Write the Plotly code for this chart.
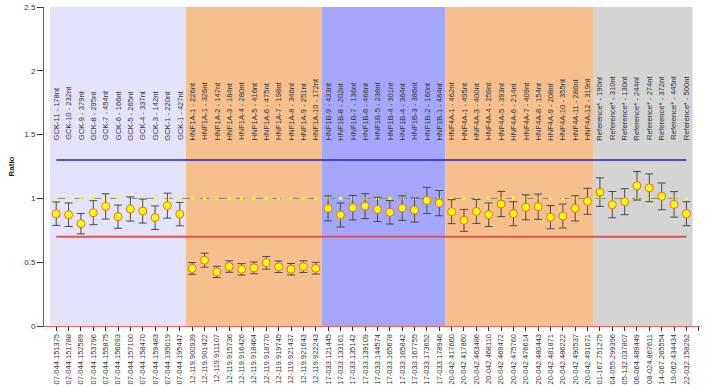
import plotly.graph_objects as go

# ---- data ----
gck_ids = ["07-044.151375", "07-044.151788", "07-044.152589", "07-044.153796", "07-044.155875",
           "07-044.156093", "07-044.157100", "07-044.158470", "07-044.159483", "07-044.195019", "07-044.195447"]
gck_names = ["GCK-11 - 178nt", "GCK-10 - 232nt", "GCK-9 - 379nt", "GCK-8 - 295nt", "GCK-7 - 454nt",
             "GCK-6 - 166nt", "GCK-5 - 265nt", "GCK-4 - 337nt", "GCK-3 - 142nt", "GCK-1 - 220nt", "GCK-1 - 427nt"]
gck_ratio = [0.88, 0.872, 0.802, 0.888, 0.937, 0.857, 0.917, 0.901, 0.849, 0.943, 0.877]
gck_err = [0.092, 0.092, 0.08, 0.094, 0.099, 0.091, 0.095, 0.094, 0.092, 0.098, 0.092]

hnf1a_ids = ["12-119.900939", "12-119.901422", "12-119.911107", "12-119.915736", "12-119.916426",
             "12-119.918464", "12-119.918770", "12-119.919745", "12-119.921437", "12-119.921643", "12-119.922243"]
hnf1a_names = ["HNF1A-1 - 226nt", "HNF1A-1 - 326nt", "HNF1A-2 - 147nt", "HNF1A-3 - 184nt", "HNF1A-4 - 280nt",
               "HNF1A-5 - 416nt", "HNF1A-6 - 475nt", "HNF1A-7 - 198nt", "HNF1A-8 - 346nt", "HNF1A-9 - 251nt",
               "HNF1A-10 - 172nt"]
hnf1a_ratio = [0.451, 0.516, 0.424, 0.466, 0.444, 0.456, 0.495, 0.464, 0.445, 0.465, 0.453]
hnf1a_err = [0.046, 0.055, 0.044, 0.045, 0.045, 0.046, 0.05, 0.045, 0.045, 0.046, 0.046]

hnf1b_ids = ["17-033.121445", "17-033.133161", "17-033.135142", "17-033.139109", "17-033.144574",
             "17-033.165678", "17-033.165842", "17-033.167755", "17-033.173652", "17-033.178946"]
hnf1b_names = ["HNF1B-9 - 433nt", "HNF1B-8 - 202nt", "HNF1B-7 - 136nt", "HNF1B-6 - 468nt", "HNF1B-5 - 238nt",
               "HNF1B-4 - 301nt", "HNF1B-4 - 364nt", "HNF1B-3 - 386nt", "HNF1B-2 - 160nt", "HNF1B-1 - 484nt"]
hnf1b_ratio = [0.922, 0.87, 0.927, 0.94, 0.914, 0.891, 0.924, 0.909, 0.984, 0.963]
hnf1b_err = [0.098, 0.094, 0.096, 0.098, 0.095, 0.092, 0.096, 0.095, 0.103, 0.099]

hnf4a_ids = ["20-042.417660", "20-042.417860", "20-042.463486", "20-042.468110", "20-042.469472",
             "20-042.475760", "20-042.476614", "20-042.480443", "20-042.481871", "20-042.486222",
             "20-042.490537", "20-042.491671"]
hnf4a_names = ["HNF4A-1 - 462nt", "HNF4A-1 - 495nt", "HNF4A-3 - 400nt", "HNF4A-4 - 259nt", "HNF4A-5 - 393nt",
               "HNF4A-6 - 214nt", "HNF4A-7 - 409nt", "HNF4A-8 - 154nt", "HNF4A-9 - 208nt", "HNF4A-10 - 355nt",
               "HNF4A-11 - 286nt", "HNF4A-12 - 319nt"]
hnf4a_ratio = [0.896, 0.828, 0.898, 0.872, 0.956, 0.88, 0.93, 0.935, 0.853, 0.862, 0.922, 0.977]
hnf4a_err = [0.094, 0.086, 0.094, 0.092, 0.099, 0.094, 0.098, 0.099, 0.091, 0.094, 0.099, 0.102]

ref_ids = ["01-167.751275", "04-055.299396", "05-132.037807", "06-064.489449", "08-024.867611",
           "14-067.265554", "19-062.434434", "22-032.158292"]
ref_names = ["Reference* - 190nt", "Reference* - 310nt", "Reference* - 130nt", "Reference* - 244nt",
             "Reference* - 274nt", "Reference* - 372nt", "Reference* - 445nt", "Reference* - 500nt"]
ref_ratio = [1.049, 0.951, 0.974, 1.099, 1.083, 1.016, 0.953, 0.88]
ref_err = [0.112, 0.103, 0.102, 0.112, 0.109, 0.105, 0.1, 0.094]

upper_limit = 1.3
lower_limit = 0.7
expected = 1.0

groups = [
    (gck_ids, gck_names, gck_ratio, gck_err, "#E3E3FB"),
    (hnf1a_ids, hnf1a_names, hnf1a_ratio, hnf1a_err, "#F5BF8E"),
    (hnf1b_ids, hnf1b_names, hnf1b_ratio, hnf1b_err, "#A4A7FA"),
    (hnf4a_ids, hnf4a_names, hnf4a_ratio, hnf4a_err, "#F5BF8E"),
    (ref_ids, ref_names, ref_ratio, ref_err, "#D4D4D4"),
]

ids, names, ratios, errs = [], [], [], []
shapes = []
start = 0
for g_ids, g_names, g_ratio, g_err, color in groups:
    n = len(g_ids)
    shapes.append(dict(type="rect", xref="x", yref="y", x0=start - 0.5, x1=start + n - 0.5,
                       y0=0, y1=2.5, fillcolor=color, line=dict(width=0), layer="below"))
    ids += g_ids
    names += g_names
    ratios += g_ratio
    errs += g_err
    start += n

N = len(ids)
xs = list(range(N))

fig = go.Figure()

# limit lines
fig.add_trace(go.Scatter(x=[0, N - 1], y=[upper_limit, upper_limit], mode="lines",
                         line=dict(color="#2323C8", width=1.5), hoverinfo="skip"))
fig.add_trace(go.Scatter(x=[0, N - 1], y=[lower_limit, lower_limit], mode="lines",
                         line=dict(color="#E8504A", width=2), hoverinfo="skip"))
# expected line
fig.add_trace(go.Scatter(x=xs, y=[expected] * N, mode="lines+markers",
                         line=dict(color="#8C8C6E", width=1, dash="dash"),
                         marker=dict(symbol="square", size=3, color="#FFFF00"), hoverinfo="skip"))
# measurements
fig.add_trace(go.Scatter(x=xs, y=ratios, mode="markers",
                         marker=dict(symbol="circle", size=8, color="#FFFF00",
                                     line=dict(color="#E86A2C", width=1)),
                         error_y=dict(type="data", array=errs, visible=True, color="#4A4A4A",
                                      thickness=1, width=4)))

annotations = []
for i, nm in enumerate(names):
    annotations.append(dict(x=i, y=1.44, xref="x", yref="y", text=nm, textangle=-90,
                            showarrow=False, xanchor="center", yanchor="bottom",
                            font=dict(family="Liberation Sans, Arial", size=7.6, color="#333333")))
annotations.append(dict(x=-0.0503, y=0.5, xref="paper", yref="paper", text="<b>Ratio</b>",
                        textangle=-90, showarrow=False, xanchor="center", yanchor="middle",
                        font=dict(family="Liberation Sans, Arial", size=8, color="#222222")))

fig.update_layout(
    width=708, height=388,
    margin=dict(l=44, r=8, t=7, b=62),
    paper_bgcolor="white", plot_bgcolor="white",
    showlegend=False,
    shapes=shapes,
    annotations=annotations,
    font=dict(family="Liberation Sans, Arial", size=8, color="#333333"),
)
fig.update_xaxes(range=[-0.99, N + 0.1], tickmode="array", tickvals=list(range(N + 1)),
                 ticktext=ids + [""], tickangle=-90, showgrid=False, zeroline=False,
                 showline=True, linecolor="#E06060", linewidth=1, ticks="outside", ticklen=4,
                 tickcolor="#333333", tickfont=dict(size=7.5, color="#333333"), automargin=False)
fig.update_yaxes(range=[0, 2.5], tickmode="array", tickvals=[0, 0.5, 1, 1.5, 2, 2.5],
                 ticktext=["0", "0.5", "1", "1.5", "2", "2.5"], showgrid=False, zeroline=False,
                 showline=True, linecolor="#D03838", linewidth=1, ticks="outside", ticklen=6,
                 tickcolor="#333333", tickfont=dict(size=8, color="#333333"), automargin=False)

fig.write_html("out.html")
